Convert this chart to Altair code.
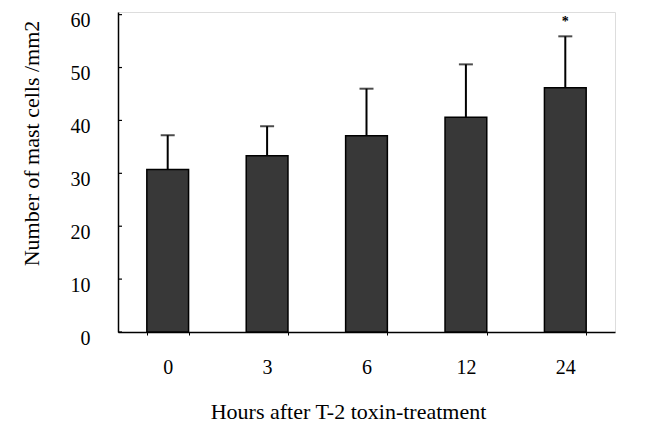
import altair as alt
import pandas as pd

hours = ["0", "3", "6", "12", "24"]
means = [30.7, 33.3, 37.1, 40.6, 46.2]
sds = [6.5, 5.6, 8.9, 10.0, 9.7]
marks = ["", "", "", "", "*"]
y_ticks = [0, 10, 20, 30, 40, 50, 60]

df = pd.DataFrame({"hour": hours, "mean": means, "sd": sds, "mark": marks})
df["upper"] = df["mean"] + df["sd"]
ticks_df = pd.DataFrame({"t": y_ticks})

FONT = "Liberation Serif"

x = alt.X(
    "hour:N",
    sort=hours,
    scale=alt.Scale(paddingInner=0.58, paddingOuter=0.29),
    axis=alt.Axis(
        title="Hours after T-2 toxin-treatment",
        labelAngle=0,
        labelFont=FONT,
        labelFontSize=20,
        labelColor="black",
        labelPadding=22,
        tickBand="extent",
        tickSize=3,
        tickColor="black",
        domainColor="black",
        domainWidth=1.5,
        titleFont=FONT,
        titleFontSize=22,
        titleFontWeight="normal",
        titleColor="black",
        titlePadding=24,
        titleX=230,
        titleAlign="center",
    ),
)

yscale = alt.Scale(domain=[0, 60.5], nice=False, zero=True)

y = alt.Y(
    "mean:Q",
    scale=yscale,
    axis=alt.Axis(
        values=y_ticks,
        ticks=False,
        labelFont=FONT,
        labelFontSize=20,
        labelColor="black",
        labelPadding=28,
        labelOffset=6,
        domainColor="black",
        domainWidth=1.5,
        grid=False,
        title="Number of  mast cells /mm2",
        titleFont=FONT,
        titleFontSize=22,
        titleFontWeight="normal",
        titleColor="black",
        titleAngle=-90,
        titleX=-87,
        titleY=131,
        titleAlign="center",
        titleBaseline="middle",
    ),
)

bars = alt.Chart(df).mark_bar(
    fill="#383838", stroke="black", strokeWidth=1.5
).encode(x=x, y=y)

err_line = alt.Chart(df).mark_rule(color="black", strokeWidth=2).encode(
    x=alt.X("hour:N", sort=hours),
    y=alt.Y("mean:Q", scale=yscale),
    y2="upper:Q",
)

caps = alt.Chart(df).mark_tick(
    color="black", thickness=2, size=14, orient="horizontal"
).encode(
    x=alt.X("hour:N", sort=hours),
    y=alt.Y("upper:Q", scale=yscale),
)

stars = alt.Chart(df).mark_text(
    font=FONT, fontSize=14, fontWeight="bold", dy=-14, color="black"
).encode(
    x=alt.X("hour:N", sort=hours),
    y=alt.Y("upper:Q", scale=yscale),
    text="mark:N",
)

yticks = alt.Chart(ticks_df).mark_rule(color="black", strokeWidth=1.2).encode(
    y=alt.Y("t:Q", scale=yscale),
    x=alt.value(0),
    x2=alt.value(4),
)

chart = alt.layer(bars, err_line, caps, stars, yticks).properties(
    width=497,
    height=320,
    autosize=alt.AutoSizeParams(type="none"),
    padding={"left": 110, "top": 4, "right": 30, "bottom": 91},
).configure_view(stroke=None).configure(background="white")

chart.save("out.html", embed_options={"renderer": "svg", "actions": False})
